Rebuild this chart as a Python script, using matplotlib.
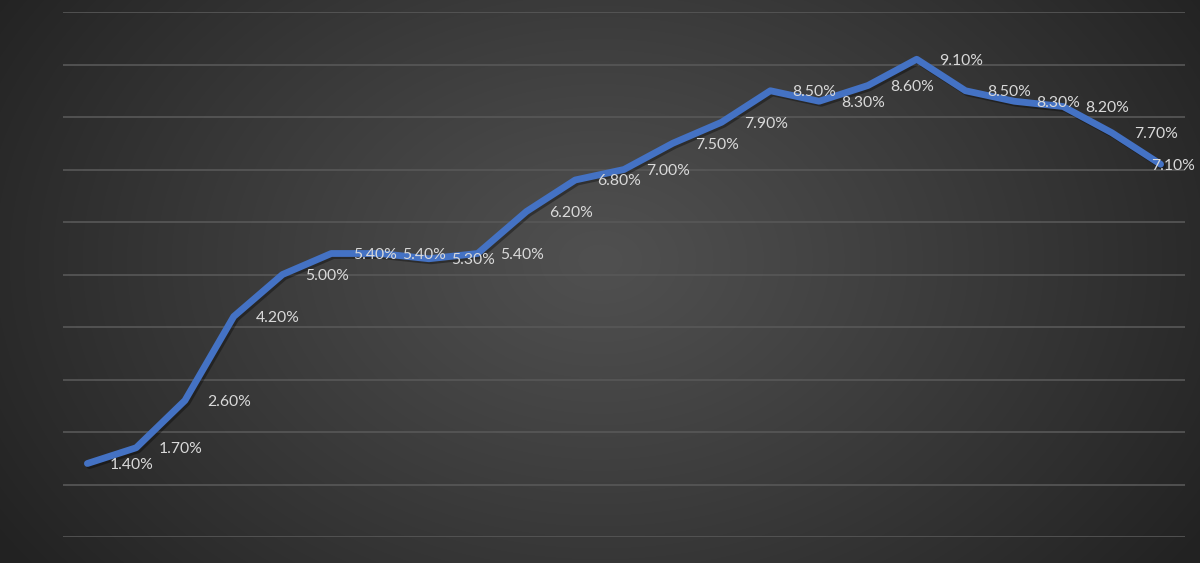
import numpy as np
import matplotlib
matplotlib.use("Agg")
import matplotlib.pyplot as plt
import matplotlib.patheffects as pe

values = [1.40, 1.70, 2.60, 4.20, 5.00, 5.40, 5.40, 5.30, 5.40, 6.20, 6.80, 7.00,
          7.50, 7.90, 8.50, 8.30, 8.60, 9.10, 8.50, 8.30, 8.20, 7.70, 7.10]
labels = [f"{v:.2f}%" for v in values]

W, H, DPI = 1200, 563, 100
fig = plt.figure(figsize=(W / DPI, H / DPI), dpi=DPI)

# radial gradient background
bg = fig.add_axes([0, 0, 1, 1], zorder=-10)
yy, xx = np.mgrid[0:H, 0:W]
cx, cy = 600, 260
d = np.sqrt(((xx - cx) / 720.0) ** 2 + ((yy - cy) / 520.0) ** 2)
d = np.clip(d, 0, 1)
c_center = np.array([0x50, 0x50, 0x50]) / 255.0
c_edge = np.array([0x22, 0x22, 0x22]) / 255.0
img = c_center[None, None, :] + (c_edge - c_center)[None, None, :] * d[..., None] ** 1.1
bg.imshow(img, aspect="auto", extent=[0, 1, 0, 1], origin="upper")
bg.axis("off")

ax = fig.add_axes([63 / W, (H - 537) / H, (1185 - 63) / W, (537 - 12) / H])
ax.set_facecolor("none")
x = np.arange(len(values))
ax.plot(x, values, color="#4472C4", lw=4.9, solid_capstyle="round", solid_joinstyle="round",
        zorder=3,
        path_effects=[pe.SimpleLineShadow(offset=(1.5, -1.5), shadow_color="black", alpha=0.35),
                      pe.Normal()])
ax.set_xlim(-0.5, len(values) - 0.5)
ax.set_ylim(0, 10)
ax.set_yticks(np.arange(0, 11, 1))
ax.grid(axis="y", color="#585858", lw=1.2)
ax.set_axisbelow(True)
ax.tick_params(left=False, bottom=False, labelleft=False, labelbottom=False)
for s in ax.spines.values():
    s.set_visible(False)

for i, (v, t) in enumerate(zip(values, labels)):
    if i == len(values) - 1:
        off = (-7, -1)
    else:
        off = (16, -1)
    ax.annotate(t, (i, v), xytext=off, textcoords="offset points", ha="left", va="center",
                color="#d9d9d9", fontsize=11.3, family=["Lato", "DejaVu Sans"], zorder=4)

fig.savefig("out.png", dpi=DPI)
